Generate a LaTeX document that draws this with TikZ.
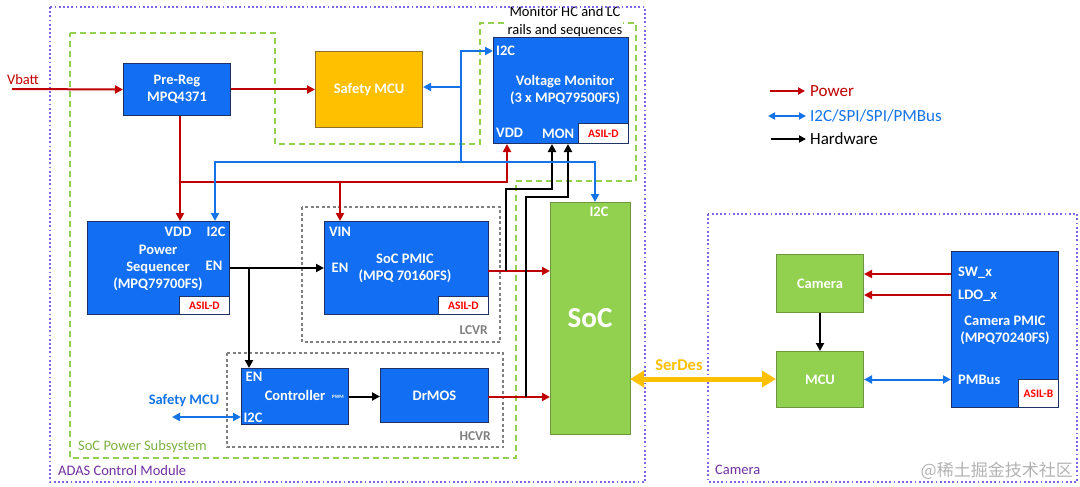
\documentclass[tikz,border=0pt]{standalone}
\usepackage{fontspec}
\setmainfont{Carlito}
\newfontfamily\cjk{Noto Sans CJK SC}
\usetikzlibrary{arrows.meta}
\definecolor{boxblue}{RGB}{18,110,242}
\definecolor{boxedge}{RGB}{30,50,100}
\definecolor{socgreen}{RGB}{146,208,80}
\definecolor{greenedge}{RGB}{110,150,60}
\definecolor{mcuorange}{RGB}{255,192,0}
\definecolor{orangeedge}{RGB}{140,110,40}
\definecolor{pwred}{RGB}{192,0,0}
\definecolor{busblue}{RGB}{20,115,230}
\definecolor{dotpurple}{RGB}{128,100,230}
\definecolor{labpurple}{RGB}{112,48,160}
\definecolor{dashgreen}{RGB}{146,208,80}
\definecolor{serdes}{RGB}{255,192,0}
\tikzset{
  bluebox/.style={draw=boxedge,fill=boxblue,line width=1pt,anchor=north west,inner sep=0pt},
  greenbox/.style={draw=greenedge,fill=socgreen,line width=1pt,anchor=north west,inner sep=0pt},
  orangebox/.style={draw=orangeedge,fill=mcuorange,line width=1pt,anchor=north west,inner sep=0pt},
  asilbox/.style={draw=boxedge,fill=white,line width=0.8pt,anchor=north west,inner sep=0pt,text=red,font=\fontsize{11.5}{13}\selectfont\bfseries},
  wlbl/.style={text=white,font=\fontsize{14.5}{17}\selectfont\bfseries,inner sep=0pt,align=center},
  tip/.style={-{Triangle[length=8pt,width=8pt]}},
  tips/.style={{Triangle[length=8pt,width=8pt]}-{Triangle[length=8pt,width=8pt]}},
  pw/.style={draw=pwred,line width=2pt},
  bus/.style={draw=busblue,line width=2pt},
  hw/.style={draw=black,line width=2pt},
  purpledot/.style={draw=dotpurple,line width=1.8pt,dash pattern=on 1.8pt off 2.4pt},
  greendash/.style={draw=dashgreen,line width=2.4pt,dash pattern=on 6pt off 4pt},
  graydash/.style={draw=gray,line width=1.2pt,dash pattern=on 3pt off 2.5pt},
  lblfont/.style={font=\fontsize{14.5}{17}\selectfont,inner sep=0pt},
}
\begin{document}
\begin{tikzpicture}[x=1pt,y=-1pt]
\useasboundingbox (0,0) rectangle (1080,487);
% containers
\draw[greendash] (70,33) -- (275,33) -- (275,144) -- (480,144) -- (480,23) -- (636,23) -- (636,181) -- (516,181) -- (516,458) -- (70,458) -- cycle;
\node[font=\fontsize{14.5}{18}\selectfont,inner sep=1pt,fill=white,align=center] (monlbl) at (565,22) {Monitor HC and LC\\rails and sequences};
\draw[purpledot] (50,7) rectangle (645,482);
\draw[purpledot] (708,214) rectangle (1077,482);
\draw[graydash] (302,207) rectangle (500,342);
\draw[graydash] (227,353) rectangle (503,447);
\node[lblfont,text=labpurple,anchor=west] (adaslbl) at (58,471) {ADAS Control Module};
\node[lblfont,text=dashgreen!85!black,anchor=west] (soclbl) at (78,447) {SoC Power Subsystem};
\node[lblfont,text=labpurple,anchor=west] (camlbl) at (715,470) {Camera};
\node[text=gray,font=\fontsize{13.5}{15}\selectfont\bfseries,anchor=east,inner sep=0pt] (lcvr) at (488,330) {LCVR};
\node[text=gray,font=\fontsize{13.5}{15}\selectfont\bfseries,anchor=east,inner sep=0pt] (hcvr) at (491,436) {HCVR};
% boxes
\node[bluebox,minimum width=107pt,minimum height=52pt] (prereg) at (123,63) {};
\node[wlbl] at (prereg.center) {Pre-Reg\\MPQ4371};
\node[orangebox,minimum width=107pt,minimum height=76pt] (safety) at (315,51) {};
\node[wlbl] at (safety.center) {Safety MCU};
\node[bluebox,minimum width=135pt,minimum height=106pt] (vm) at (493,37) {};
\node[asilbox,minimum width=50pt,minimum height=20pt] (vmasil) at (578,123) {ASIL-D};
\node[wlbl] (vmt) at (565,90) {Voltage Monitor\\(3 x MPQ79500FS)};
\node[wlbl,anchor=west] (vmi2c) at (496,51) {I2C};
\node[wlbl,anchor=west] (vmvdd) at (496,133) {VDD};
\node[wlbl,anchor=west] (vmmon) at (542,134) {MON};
\node[bluebox,minimum width=142pt,minimum height=93pt] (pseq) at (87,221) {};
\node[asilbox,minimum width=50pt,minimum height=18pt] (psasil) at (179,296) {ASIL-D};
\node[wlbl] (pst) at (158,268) {Power\\Sequencer\\(MPQ79700FS)};
\node[wlbl] (psvdd) at (178,232) {VDD};
\node[wlbl] (psi2c) at (216,232) {I2C};
\node[wlbl] (psen) at (214,266) {EN};
\node[bluebox,minimum width=164pt,minimum height=93pt] (pmic) at (324,221) {};
\node[asilbox,minimum width=50pt,minimum height=18pt] (pmasil) at (438,296) {ASIL-D};
\node[wlbl] (pmt) at (405,268) {SoC PMIC\\(MPQ 70160FS)};
\node[wlbl] (pmvin) at (340,232) {VIN};
\node[wlbl] (pmen) at (340,268) {EN};
\node[bluebox,minimum width=107pt,minimum height=56pt] (ctrl) at (241,368) {};
\node[wlbl] (ctt) at (295,395) {Controller};
\node[wlbl] (cten) at (254,377) {EN};
\node[wlbl] (cti2c) at (253,418) {I2C};
\node[text=white,font=\fontsize{5}{6}\selectfont\bfseries,inner sep=0pt] (ctpwm) at (338,397) {PWM};
\node[bluebox,minimum width=108pt,minimum height=54pt] (drmos) at (380,368) {};
\node[wlbl] at (drmos.center) {DrMOS};
\node[greenbox,minimum width=80pt,minimum height=232pt] (soc) at (550,202) {};
\node[text=white,font=\fontsize{29}{32}\selectfont\bfseries,inner sep=0pt] (soct) at (590,318) {SoC};
\node[wlbl] (soci2c) at (599,212) {I2C};
\node[greenbox,minimum width=87pt,minimum height=58pt] (cam) at (776,254) {};
\node[wlbl] at (cam.center) {Camera};
\node[greenbox,minimum width=87pt,minimum height=56pt] (mcu) at (776,351) {};
\node[wlbl] at (mcu.center) {MCU};
\node[bluebox,minimum width=107pt,minimum height=156pt] (cpmic) at (951,251) {};
\node[asilbox,minimum width=40pt,minimum height=28pt] (cpasil) at (1018,379) {ASIL-B};
\node[wlbl] (cpt) at (1005,330) {Camera PMIC\\(MPQ70240FS)};
\node[wlbl,anchor=west] (cpsw) at (958,273) {SW\_x};
\node[wlbl,anchor=west] (cpldo) at (958,296) {LDO\_x};
\node[wlbl,anchor=west] (cppm) at (958,380) {PMBus};
% power
\node[lblfont,text=pwred] (vbattlbl) at (23,80) {Vbatt};
\coordinate (vb) at (12,89);
\draw[pw,tip] (vb) -- (prereg.west);
\draw[pw,tip] (prereg.east) -- (safety.west);
\coordinate (j1) at (180,182);
\coordinate (cVdd) at (507,182);
\coordinate (cVin) at (340,182);
\draw[pw,tip] (prereg.south -| j1) -- (pseq.north -| j1);
\draw[pw,tip] (j1) -- (cVdd) -- (cVdd |- vm.south);
\draw[pw,tip] (cVin) -- (cVin |- pmic.north);
\coordinate (cP) at (488,271);
\draw[pw,tip] (cP) -- (cP -| soc.west);
\coordinate (cD) at (488,397);
\draw[pw,tip] (cD) -- (cD -| soc.west);
% hardware
\draw[hw,tip] (pseq.east) -- (pseq.east -| pmic.west);
\coordinate (cEnB) at (249,267.5);
\draw[hw,tip] (cEnB) -- (cEnB |- ctrl.north);
\draw[hw,tip] (ctrl.east) -- (ctrl.east -| drmos.west);
\coordinate (m1a) at (506,271);
\coordinate (m1b) at (506,189);
\coordinate (m1c) at (552,189);
\draw[hw,tip] (m1a) -- (m1b) -- (m1c) -- (m1c |- vm.south);
\coordinate (m2a) at (526,397);
\coordinate (m2b) at (526,197);
\coordinate (m2c) at (568,197);
\draw[hw,tip] (m2a) -- (m2b) -- (m2c) -- (m2c |- vm.south);
% bus
\coordinate (cJ) at (461,162);
\coordinate (cI2Cps) at (215,162);
\coordinate (cSocI) at (595,162);
\coordinate (cVmI) at (461,51);
\coordinate (cSm) at (461,87);
\draw[bus,tip] (cJ) -- (cI2Cps) -- (cI2Cps |- pseq.north);
\draw[bus,tip] (cJ) -- (cSocI) -- (cSocI |- soc.north);
\draw[bus,tip] (cJ) -- (cVmI) -- (cVmI -| vm.west);
\draw[bus,tip] (cSm) -- (cSm -| safety.east);
\node[text=busblue,font=\fontsize{14.5}{17}\selectfont\bfseries,inner sep=0pt] (smlbl) at (184,401) {Safety MCU};
\coordinate (cSmL) at (172,417);
\draw[bus,tips] (cSmL) -- (cSmL -| ctrl.west);
% camera side
\coordinate (cSW) at (951,274);
\coordinate (cLDO) at (951,295);
\draw[pw,tip] (cSW) -- (cSW -| cam.east);
\draw[pw,tip] (cLDO) -- (cLDO -| cam.east);
\draw[hw,tip] (cam.south) -- (mcu.north);
\draw[bus,tips] (mcu.east) -- (cpmic.west |- mcu.east);
% serdes
\coordinate (cS) at (630,379);
\draw[draw=serdes,line width=5pt,{Triangle[length=14pt,width=16pt]}-{Triangle[length=14pt,width=16pt]}] (cS) -- (cS -| mcu.west);
\node[text=serdes,font=\fontsize{16.5}{19}\selectfont\bfseries,inner sep=0pt] (serlbl) at (679,365) {SerDes};
% legend
\coordinate (l1a) at (770,91); \coordinate (l1b) at (805,91);
\coordinate (l2a) at (768,116); \coordinate (l2b) at (806,116);
\coordinate (l3a) at (771,139); \coordinate (l3b) at (806,139);
\draw[pw,-{Triangle[length=7pt,width=7pt]}] (l1a) -- (l1b);
\draw[bus,{Triangle[length=7pt,width=7pt]}-{Triangle[length=7pt,width=7pt]}] (l2a) -- (l2b);
\draw[hw,-{Triangle[length=7pt,width=7pt]}] (l3a) -- (l3b);
\node[text=pwred,font=\fontsize{17}{20}\selectfont,anchor=west,inner sep=0pt] (lg1) at (810,91) {Power};
\node[text=busblue,font=\fontsize{17}{20}\selectfont,anchor=west,inner sep=0pt] (lg2) at (810,116) {I2C/SPI/SPI/PMBus};
\node[font=\fontsize{17}{20}\selectfont,anchor=west,inner sep=0pt] (lg3) at (810,139) {Hardware};
% watermark
\node[text=gray!60,font=\fontsize{17}{19}\selectfont,anchor=east,inner sep=0pt] (wm) at (1073,471) {\cjk @稀土掘金技术社区};
\end{tikzpicture}
\end{document}
